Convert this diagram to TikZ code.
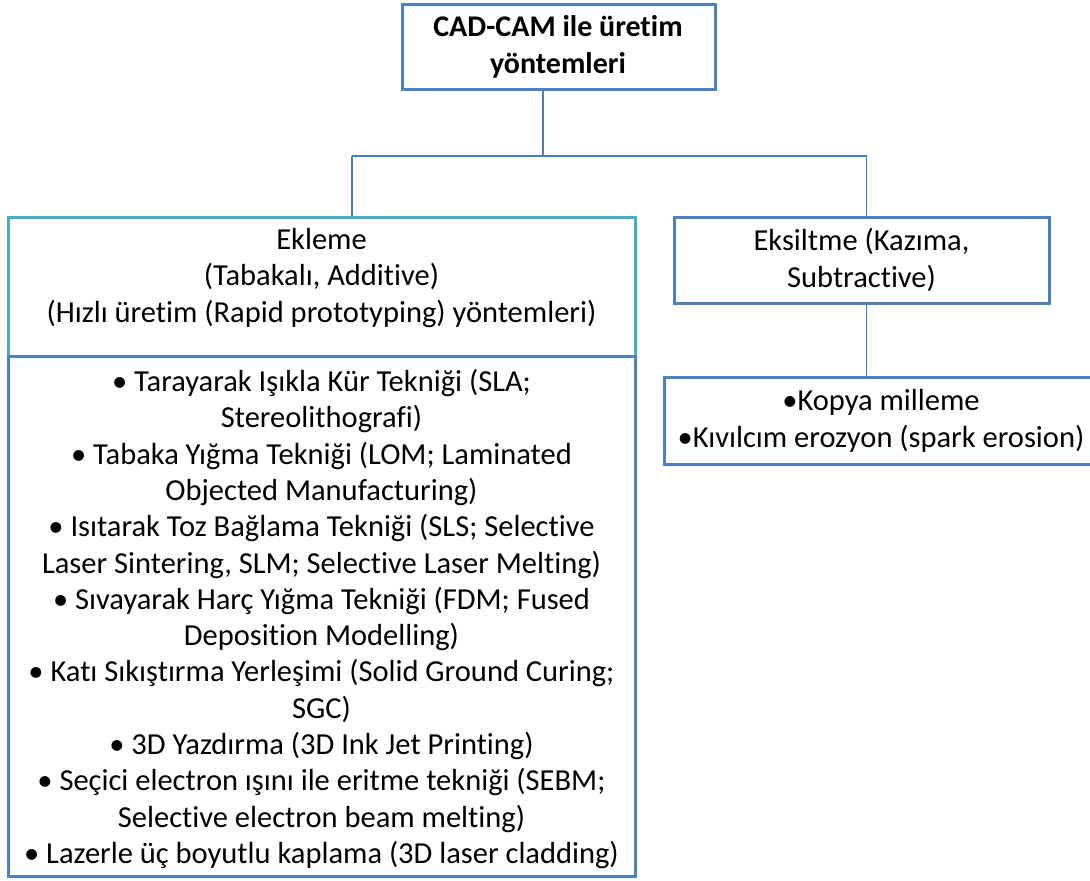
\documentclass[tikz,border=0pt]{standalone}
\usepackage{fontspec}
\setmainfont{Carlito}[Ligatures=NoCommon]
\definecolor{boxblue}{HTML}{4F81BD}
\definecolor{boxteal}{HTML}{4BACC6}
\definecolor{connblue}{HTML}{4A7EBB}
\begin{document}
\begin{tikzpicture}[x=1pt,y=-1pt,
  box/.style={draw=boxblue,line width=3pt,rectangle,inner sep=0pt,fill=white},
  tealbox/.style={box,draw=boxteal},
  txt/.style={align=center,inner sep=0pt,font=\fontsize{30.5}{36.3}\selectfont},
  conn/.style={draw=connblue,line width=1.3pt}]
\useasboundingbox (0,0) rectangle (1090,881);
% boxes
\node[box,minimum width=313pt,minimum height=85pt] (top) at (558.5,46.5) {};
\node[tealbox,minimum width=627pt,minimum height=139pt] (hdr) at (321.5,286.5) {};
\node[box,minimum width=627pt,minimum height=520pt] (list) at (321.5,616) {};
\node[box,minimum width=375pt,minimum height=86pt] (sub) at (861.5,260) {};
\node[box,minimum width=434pt,minimum height=87pt] (items) at (881,420.5) {};
% texts
\node[txt,font=\fontsize{30}{37}\selectfont\bfseries] (toptxt) at (558,47) {CAD-CAM ile üretim\\yöntemleri};
\node[txt] (hdrtxt) at (321.5,278) {Ekleme\\(Tabakalı, Additive)\\(Hızlı üretim (Rapid prototyping) yöntemleri)};
\node[txt] (listtxt) at (321.5,619) {%
• Tarayarak Işıkla Kür Tekniği (SLA;\\
Stereolithografi)\\
• Tabaka Yığma Tekniği (LOM; Laminated\\
Objected Manufacturing)\\
• Isıtarak Toz Bağlama Tekniği (SLS; Selective\\
Laser Sintering, SLM; Selective Laser Melting)\\
• Sıvayarak Harç Yığma Tekniği (FDM; Fused\\
Deposition Modelling)\\
• Katı Sıkıştırma Yerleşimi (Solid Ground Curing;\\
SGC)\\
• 3D Yazdırma (3D Ink Jet Printing)\\
• Seçici electron ışını ile eritme tekniği (SEBM;\\
Selective electron beam melting)\\
• Lazerle üç boyutlu kaplama (3D laser cladding)};
\node[txt] (subtxt) at (861.5,260) {Eksiltme (Kazıma,\\Subtractive)};
\node[txt] (itemstxt) at (881,421) {•Kopya milleme\\•Kıvılcım erozyon (spark erosion)};
% connectors
\coordinate (j) at (543,156);
\coordinate (jl) at (352,156);
\coordinate (jr) at (866.5,156);
\draw[conn] (top.south -| j) -- (j);
\draw[conn] (jl) -- (jr);
\draw[conn] (jl) -- (jl |- hdr.north);
\draw[conn] (jr) -- (jr |- sub.north);
\draw[conn] (sub.south -| jr) -- (jr |- items.north);
\end{tikzpicture}
\end{document}
